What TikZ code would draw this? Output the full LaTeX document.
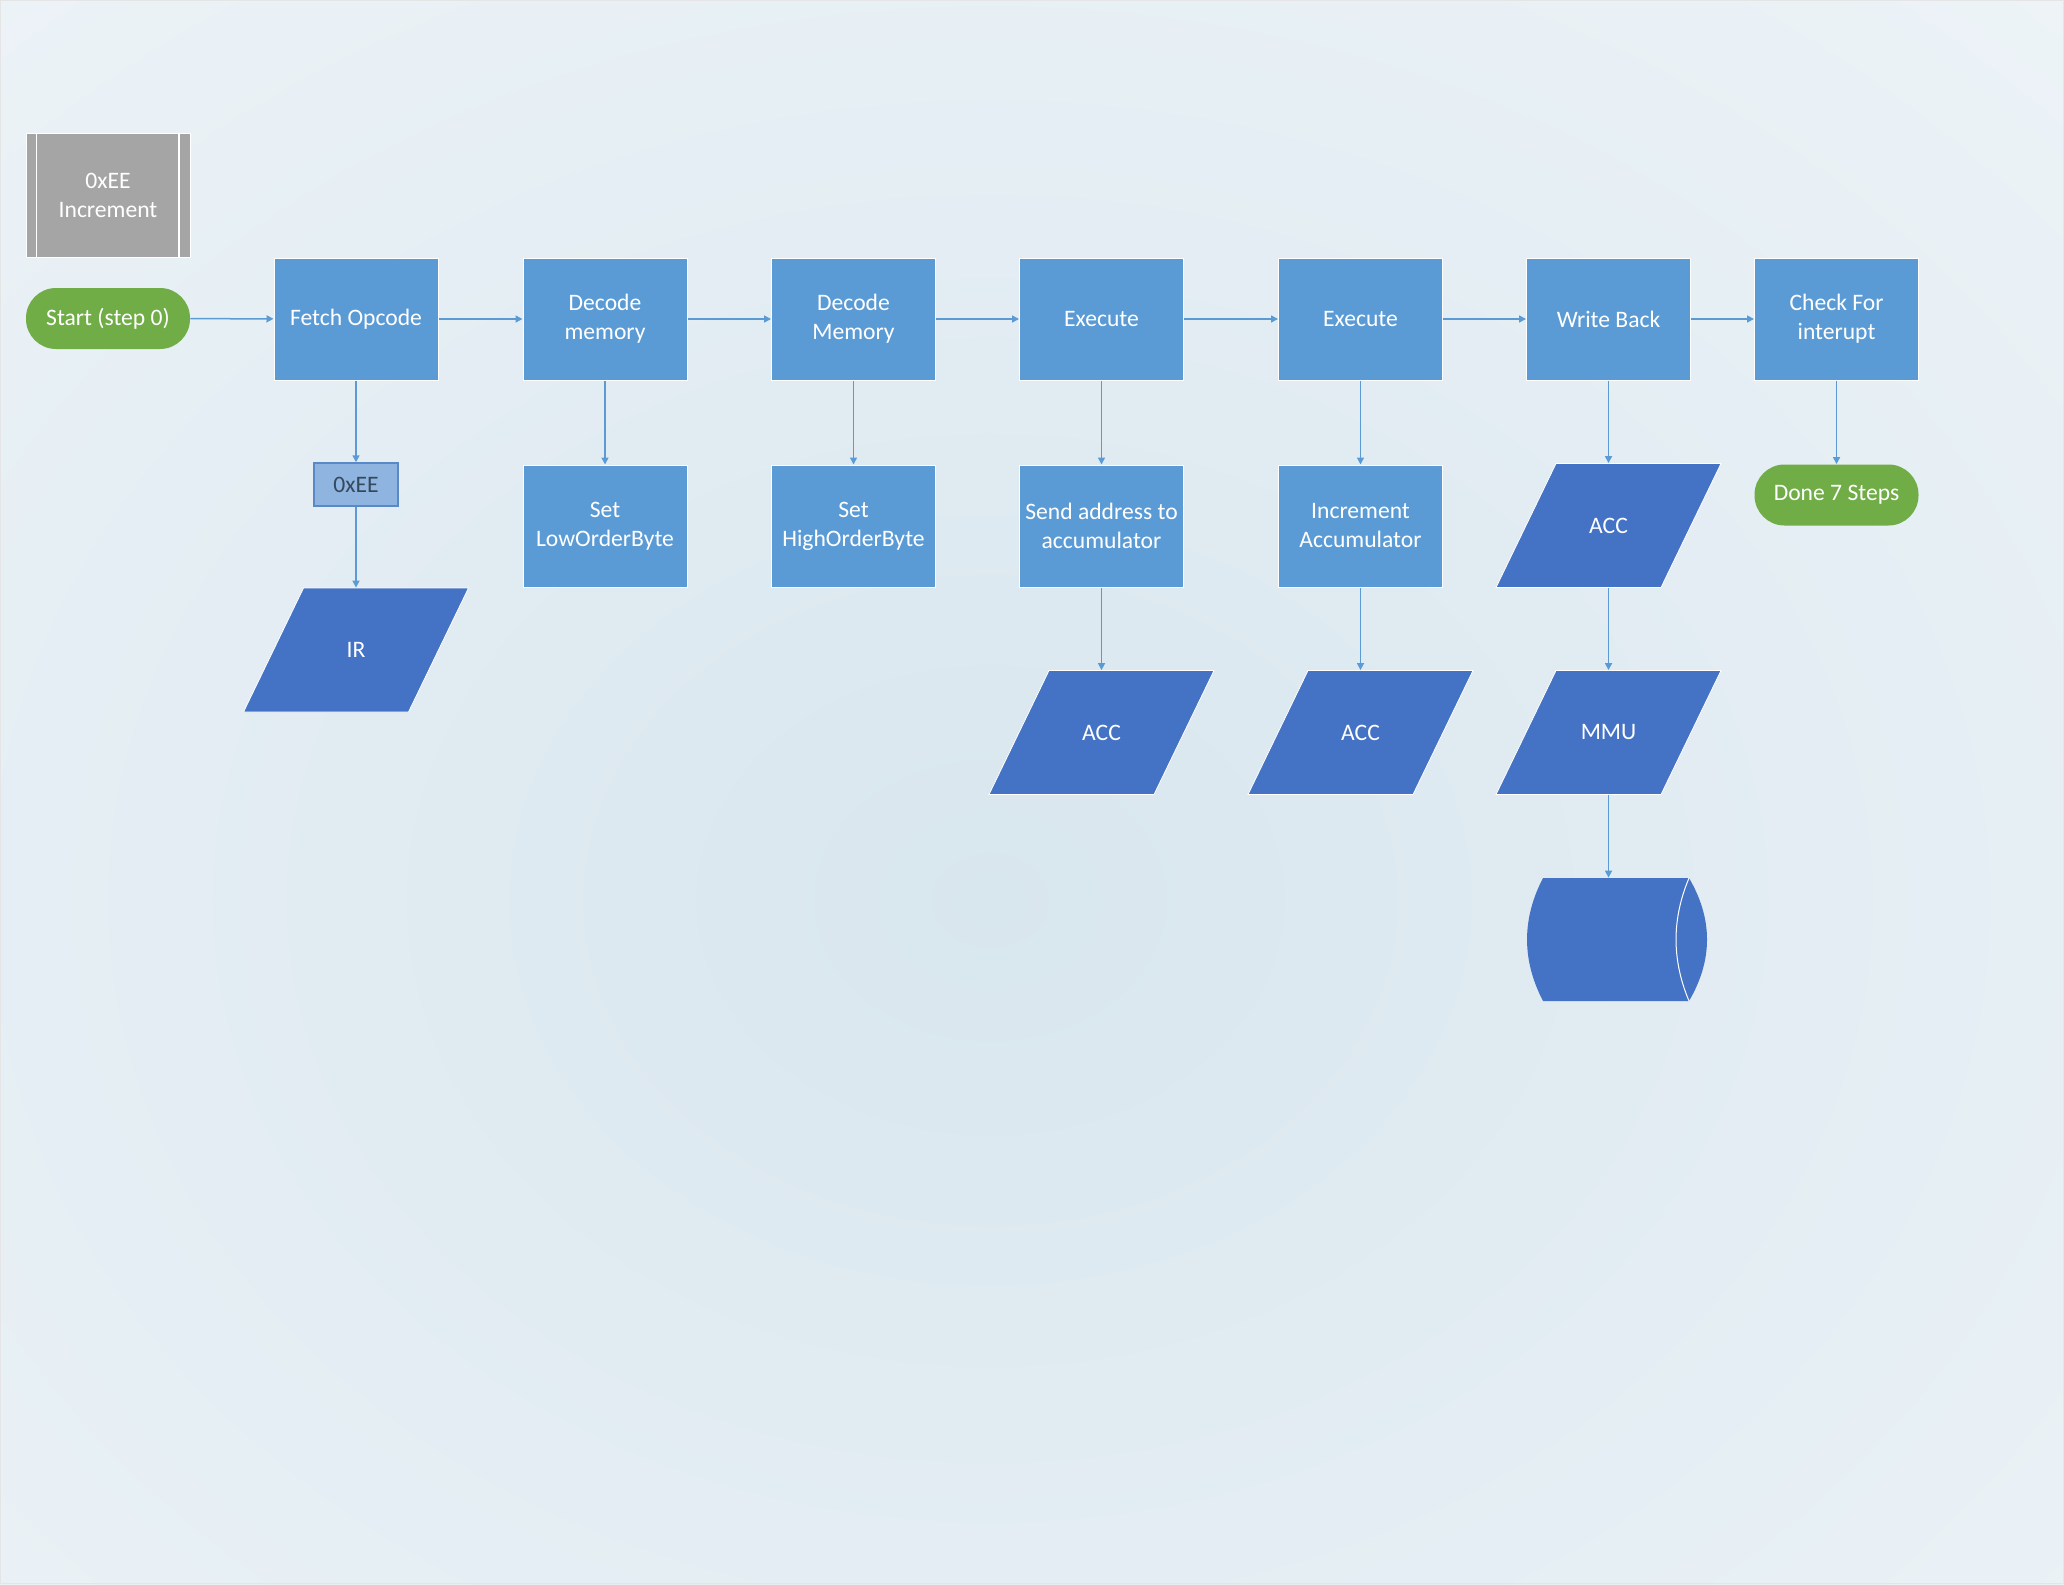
\documentclass[tikz,border=0pt]{standalone}
\usepackage{fontspec}
\setmainfont{Carlito}
\usetikzlibrary{arrows.meta}
\definecolor{boxC}{HTML}{5B9BD5}
\definecolor{paraC}{HTML}{4472C4}
\definecolor{greenC}{HTML}{70AD47}
\definecolor{greyC}{HTML}{A5A5A5}
\definecolor{lightC}{HTML}{8FB4DF}
\definecolor{lightB}{HTML}{5A8AC6}
\definecolor{lightT}{HTML}{34495E}
\definecolor{bgC}{HTML}{D8E6EE}
\definecolor{bgE}{HTML}{F3F7FA}
\pgfdeclareradialshading{bgshade}{\pgfpointorigin}{color(0bp)=(bgC); color(40bp)=(bgE); color(50bp)=(bgE)}
\tikzset{
  proc/.style={rectangle, fill=boxC, draw=white, line width=0.5pt, text=white,
    minimum width=82pt, minimum height=61pt, inner sep=0pt, align=center},
  greybox/.style={rectangle, fill=greyC, draw=white, line width=0.5pt, text=white,
    minimum width=82pt, minimum height=62pt, inner sep=0pt, align=center},
  term/.style={rectangle, rounded corners=15pt, fill=greenC, text=white,
    minimum width=82pt, minimum height=30.5pt, inner sep=0pt},
  smallbox/.style={rectangle, fill=lightC, draw=lightB, line width=0.75pt, text=lightT,
    minimum width=42pt, minimum height=21.5pt, inner sep=0pt},
  paratext/.style={rectangle, text=white, minimum width=82.5pt, minimum height=62pt, inner sep=0pt},
  arr/.style={draw=boxC, line width=0.75pt, -{Triangle[length=3.5pt,width=3.5pt]}},
  parapic/.pic={\path[fill=paraC, draw=white, line width=0.4pt]
    (-112.5,62) -- (-52.5,-62) -- (112.5,-62) -- (52.5,62) -- cycle;}
}
\begin{document}
\begin{tikzpicture}[x=0.5pt, y=-0.5pt, font=\fontsize{11.8}{14.5}\selectfont]
\useasboundingbox (0,0) rectangle (2064,1584);
% background
\fill[bgE] (0,0) rectangle (2064,1584);
\begin{scope}
  \clip (0,0) rectangle (2064,1584);
  \shade[shading=bgshade] (-260,-100) rectangle (2240,1900);
\end{scope}
\draw[gray!20, line width=0.5pt] (0.5,0.5) rectangle (2063.5,1583.5);

% predefined process
\node[greybox] (inc) at (108,195) {0xEE\\Increment};
\draw[white, line width=0.6pt] ([xshift=5.4pt]inc.north west) -- ([xshift=5.4pt]inc.south west);
\draw[white, line width=0.6pt] ([xshift=-5.8pt]inc.north east) -- ([xshift=-5.8pt]inc.south east);

% main row
\node[term] (start) at (108,318.5) {Start (step 0)};
\node[proc] (fetch) at (356,319) {Fetch Opcode};
\node[proc] (dec1) at (605,319) {Decode\\memory};
\node[proc] (dec2) at (853.5,319) {Decode\\Memory};
\node[proc] (ex1) at (1101.5,319) {Execute};
\node[proc] (ex2) at (1360.5,319) {Execute};
\node[proc] (wb) at (1608.5,319) {Write Back};
\node[proc] (chk) at (1836.5,319) {Check For\\interupt};

% second row
\node[smallbox] (oxee) at (356,484.5) {0xEE};
\node[proc] (low) at (605,526) {Set\\LowOrderByte};
\node[proc] (high) at (853.5,526) {Set\\HighOrderByte};
\node[proc] (send) at (1101.5,526) {Send address to\\accumulator};
\node[proc] (incacc) at (1360.5,526) {Increment\\Accumulator};
\pic at (1608.5,525.5) {parapic};
\node[paratext] (acc3) at (1608.5,525.5) {ACC};
\node[term] (done) at (1836.5,495) {Done 7 Steps};

% IR
\pic at (356,650) {parapic};
\node[paratext] (ir) at (356,650) {IR};

% third row
\pic at (1101.5,732.5) {parapic};
\node[paratext] (acc1) at (1101.5,732.5) {ACC};
\pic at (1360.5,732.5) {parapic};
\node[paratext] (acc2) at (1360.5,732.5) {ACC};
\pic at (1608.5,732.5) {parapic};
\node[paratext] (mmu) at (1608.5,732.5) {MMU};

% direct data storage
\fill[paraC] (1543,878) -- (1689,878) .. controls (1713,919) and (1713,960) .. (1689,1001)
  -- (1543,1001) .. controls (1521.7,960) and (1521.7,919) .. (1543,878) -- cycle;
\draw[white, line width=0.5pt] (1689,878) .. controls (1671.7,919) and (1671.7,960) .. (1689,1001);
\node[rectangle, minimum width=82pt, minimum height=61.5pt, inner sep=0pt] (disk) at (1608.5,939.5) {};

% connectors
\draw[arr] (start) -- (fetch);
\draw[arr] (fetch) -- (dec1);
\draw[arr] (dec1) -- (dec2);
\draw[arr] (dec2) -- (ex1);
\draw[arr] (ex1) -- (ex2);
\draw[arr] (ex2) -- (wb);
\draw[arr] (wb) -- (chk);
\draw[arr] (fetch) -- (oxee);
\draw[arr] (oxee) -- (ir);
\draw[arr] (dec1) -- (low);
\draw[arr] (dec2) -- (high);
\draw[arr] (ex1) -- (send);
\draw[arr] (send) -- (acc1);
\draw[arr] (ex2) -- (incacc);
\draw[arr] (incacc) -- (acc2);
\draw[arr] (wb) -- (acc3);
\draw[arr] (acc3) -- (mmu);
\draw[arr] (mmu) -- (disk);
\draw[arr] (chk) -- (done);
\end{tikzpicture}
\end{document}
